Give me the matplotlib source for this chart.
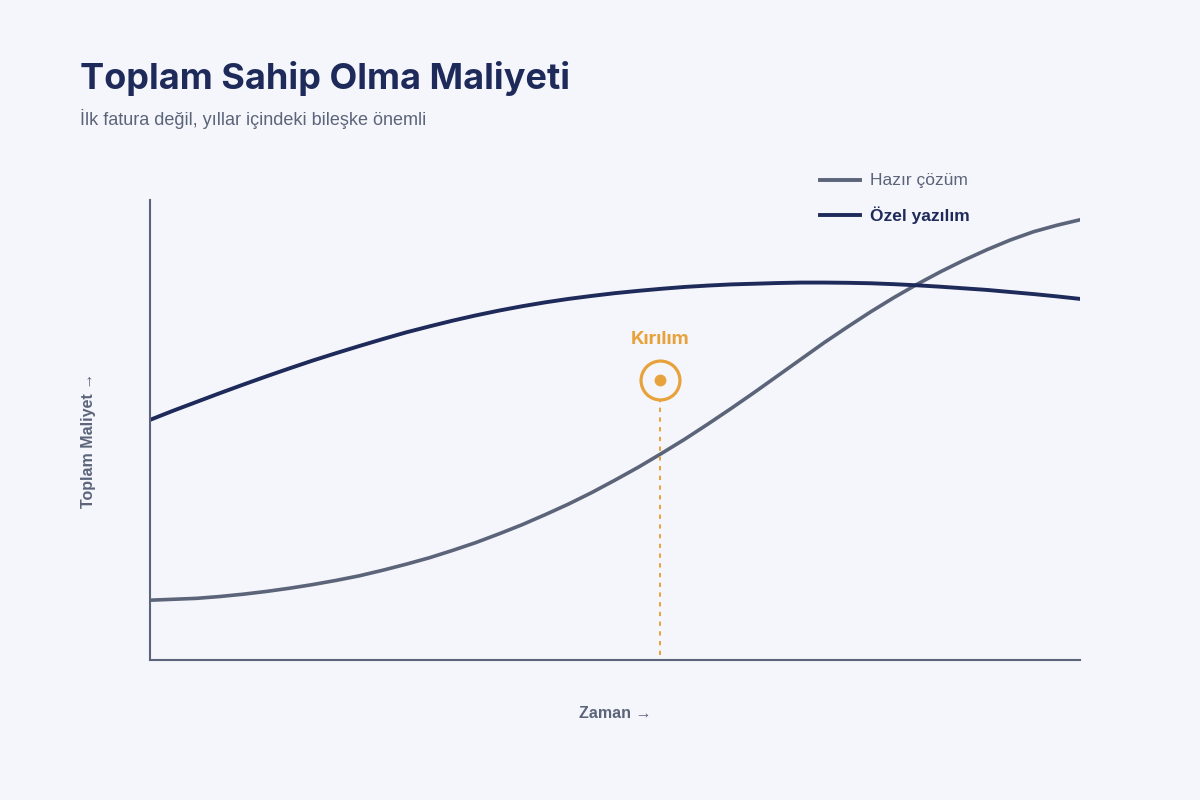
import matplotlib

matplotlib.use("Agg")
import matplotlib.pyplot as plt
from matplotlib.lines import Line2D

# Time axis (arbitrary years) and total cost index
years = [0, 0.25, 0.5, 0.75, 1, 1.25, 1.5, 1.75, 2, 2.25, 2.5, 2.75, 3, 3.25, 3.5,
         3.75, 4, 4.25, 4.5, 4.75, 5, 5.25, 5.5, 5.75, 6, 6.25, 6.5, 6.75, 7, 7.25,
         7.5, 7.75, 8, 8.25, 8.5, 8.75, 9, 9.25, 9.5, 9.75, 10]
hazir_cozum = [13.0, 13.2, 13.4, 13.8, 14.3, 14.9, 15.6, 16.4, 17.3, 18.3, 19.5,
               20.8, 22.2, 23.8, 25.5, 27.4, 29.4, 31.6, 33.9, 36.4, 39.1, 41.9,
               44.9, 48.0, 51.3, 54.7, 58.2, 61.8, 65.4, 69.0, 72.4, 75.7, 78.8,
               81.7, 84.4, 86.9, 89.2, 91.3, 93.1, 94.5, 95.7]
ozel_yazilim = [52.2, 54.2, 56.1, 58.0, 59.85, 61.65, 63.4, 65.1, 66.7, 68.25, 69.75,
                71.2, 72.5, 73.75, 74.9, 75.95, 76.9, 77.75, 78.5, 79.15, 79.75,
                80.25, 80.7, 81.1, 81.4, 81.65, 81.8, 81.95, 82.05, 82.05, 82.0,
                81.9, 81.7, 81.45, 81.15, 80.8, 80.45, 80.0, 79.55, 79.05, 78.5]

break_x = 5.48
break_y = 60.9

BG = "#f5f6fb"
NAVY = "#1e2a5a"
GRAY = "#5b6479"
ORANGE = "#e8a23c"
TITLE_FONT = ["Inter", "DejaVu Sans"]

fig = plt.figure(figsize=(12, 8), dpi=100, facecolor=BG)
ax = fig.add_axes([150 / 1200, 140 / 800, 930 / 1200, 460 / 800])
ax.set_facecolor(BG)
ax.set_xlim(0, 10)
ax.set_ylim(0, 100)

ax.plot(years, hazir_cozum, color=GRAY, lw=2.6, solid_joinstyle="round")
ax.plot(years, ozel_yazilim, color=NAVY, lw=2.8, solid_joinstyle="round")

# breakeven marker
ax.plot([break_x, break_x], [1.0, break_y - 4.4], color=ORANGE, lw=1.4,
        ls=(0, (2.2, 2.8)))
ax.plot(break_x, break_y, "o", ms=28, mfc="none", mec=ORANGE, mew=2.3)
ax.plot(break_x, break_y, "o", ms=7.5, color=ORANGE)
ax.text(break_x, break_y + 8.8, "Kırılım", ha="center", va="center", fontsize=13.5,
        fontweight="bold", color=ORANGE, family=TITLE_FONT)

for side in ("top", "right"):
    ax.spines[side].set_visible(False)
for side in ("left", "bottom"):
    ax.spines[side].set_color(GRAY)
    ax.spines[side].set_linewidth(1.5)
ax.set_xticks([])
ax.set_yticks([])

fig.text(615 / 1200, 1 - 714 / 800, "Zaman →", ha="center", va="center",
         fontsize=11.5, fontweight="bold", color=GRAY, family="Liberation Sans")
fig.text(88 / 1200, 1 - 440 / 800, "Toplam Maliyet →", ha="center", va="center",
         rotation=90, fontsize=11.5, fontweight="bold", color=GRAY,
         family="Liberation Sans")

# title block
fig.text(80 / 1200, 1 - 78 / 800, "Toplam Sahip Olma Maliyeti", ha="left", va="center",
         fontsize=26, fontweight="bold", color=NAVY, family=TITLE_FONT)
fig.text(80 / 1200, 1 - 119 / 800, "İlk fatura değil, yıllar içindeki bileşke önemli",
         ha="left", va="center", fontsize=13, color=GRAY, family="Liberation Sans")

# legend
for py, label, color, weight in ((180, "Hazır çözüm", GRAY, "normal"),
                                 (215, "Özel yazılım", NAVY, "bold")):
    yf = 1 - py / 800
    fig.add_artist(Line2D([820 / 1200, 860 / 1200], [yf, yf], color=color, lw=2.8))
    fig.text(870 / 1200, yf, label, ha="left", va="center", fontsize=12.5,
             fontweight=weight, color=color, family="Liberation Sans")

fig.savefig("out.png", dpi=100, facecolor=BG)
